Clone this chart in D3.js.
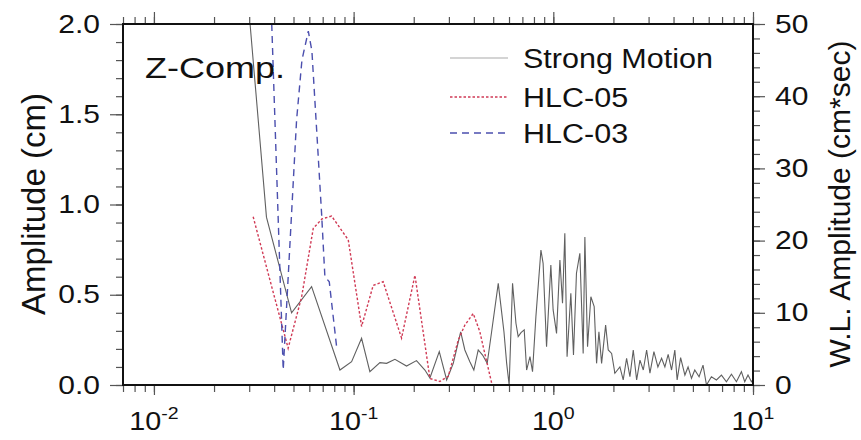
<!DOCTYPE html>
<html>
<head>
<meta charset="utf-8">
<script src="https://cdn.jsdelivr.net/npm/d3@7"></script>
<style>
  body { margin: 0; background: #fff; }
  text { font-family: "Liberation Sans", Arial, sans-serif; fill: #111; }
</style>
</head>
<body>
<script>
// Strong motion spectrum (cm), left axis
var smFreq = [0.0303, 0.0366, 0.0489, 0.0616, 0.0854, 0.0977, 0.1096, 0.1206, 0.1354, 0.1463,
  0.161, 0.1841, 0.2065, 0.2275, 0.241, 0.2685, 0.2924, 0.3155, 0.3436, 0.3606,
  0.382, 0.40, 0.4207, 0.4424, 0.4666, 0.491, 0.53, 0.547, 0.566, 0.584,
  0.601, 0.625, 0.650, 0.667, 0.689, 0.715, 0.735, 0.764, 0.787, 0.818,
  0.867, 0.889, 0.925, 0.972, 0.998, 1.038, 1.079, 1.112, 1.142, 1.172,
  1.224, 1.262, 1.306, 1.358, 1.411, 1.439, 1.484, 1.542, 1.602, 1.647,
  1.692, 1.745, 1.828, 1.884, 1.959, 2.034, 2.155, 2.239, 2.328, 2.419,
  2.514, 2.614, 2.716, 2.822, 2.933, 3.047, 3.19, 3.34, 3.485, 3.62,
  3.76, 3.91, 4.06, 4.17, 4.34, 4.56, 4.73, 4.92, 5.11, 5.37,
  5.62, 5.85, 6.19, 6.56, 6.95, 7.36, 7.80, 8.26, 8.75, 9.09,
  9.44, 9.82, 10]
var smAmp = [2.0, 0.93, 0.40, 0.545, 0.083, 0.129, 0.259, 0.074, 0.124, 0.12,
  0.142, 0.105, 0.135, 0.083, 0.039, 0.185, 0.028, 0.12, 0.295, 0.194,
  0.129, 0.083, 0.194, 0.166, 0.12, 0.295, 0.563, 0.434, 0.295, 0.12,
  0.0, 0.563, 0.342, 0.268, 0.29, 0.305, 0.083, 0.157, 0.074, 0.378,
  0.748, 0.674, 0.212, 0.665, 0.416, 0.286, 0.693, 0.453, 0.84, 0.157,
  0.508, 0.166, 0.619, 0.73, 0.175, 0.82, 0.212, 0.489, 0.434, 0.12,
  0.295, 0.12, 0.332, 0.194, 0.175, 0.065, 0.1, 0.028, 0.148, 0.046,
  0.194, 0.028, 0.138, 0.083, 0.194, 0.066, 0.185, 0.1, 0.148, 0.1,
  0.17, 0.083, 0.194, 0.028, 0.152, 0.055, 0.1, 0.037, 0.083, 0.046,
  0.11, 0.0, 0.046, 0.028, 0.055, 0.018, 0.06, 0.018, 0.074, 0.018,
  0.055, 0.018, 0.03]

// Wavelet amplitudes (cm*sec), right axis
var h05Freq = [0.0314, 0.0389, 0.0470, 0.0549, 0.0628, 0.0694, 0.0776, 0.0837, 0.0940, 0.1096,
  0.1253, 0.1406, 0.1738, 0.2028, 0.241, 0.2704, 0.2979, 0.334, 0.3606, 0.3972,
  0.4285, 0.4457, 0.491]
var h05Amp = [23.3, 13.6, 5.1, 12.2, 21.7, 23.0, 23.4, 22.1, 20.1, 8.1,
  13.8, 14.3, 6.5, 15.2, 0.9, 0.5, 1.2, 6.2, 8.3, 9.9,
  7.4, 5.3, 0.3]

var h03Freq = [0.0389, 0.0444, 0.0518, 0.0551, 0.0593, 0.0618, 0.0653, 0.0691, 0.0718, 0.0755, 0.0822]
var h03Amp = [50, 2.1, 36.7, 45, 49.0, 46.3, 35.3, 23.8, 15.0, 14.3, 5.3]

var xMajorExp = [-2, -1, 0, 1]
var yLeftTicks = [0, 0.5, 1.0, 1.5, 2.0]
var yRightTicks = [0, 10, 20, 30, 40, 50]
var seriesNames = ["Strong Motion", "HLC-05", "HLC-03"]

var W = 861, H = 440
var L = 123, R = 753, T = 24, B = 385
var SX = 1.2   // texts in the picture are a bit wider than Arial

var svg = d3.select("body").append("svg")
  .attr("width", W).attr("height", H)

svg.append("rect").attr("width", W).attr("height", H).attr("fill", "#fff")

var x = d3.scaleLog().domain([0.007, 10]).range([L, R])
var yL = d3.scaleLinear().domain([0, 2]).range([B, T])
var yR = d3.scaleLinear().domain([0, 50]).range([B, T])

var xMajor = xMajorExp.map(e => Math.pow(10, e))
var xMinor = x.ticks()

function styleAxis(g) {
  g.select(".domain").remove()
  g.selectAll("line").attr("stroke", "#555").attr("stroke-width", 1.2)
}

// stretch axis labels sideways around their anchor
function stretchLabels(g) {
  g.selectAll("text").each(function() {
    var t = d3.select(this)
    var tx = +t.attr("x")
    t.attr("x", 0)
      .attr("transform", "translate(" + tx + ",0) scale(" + SX + ",1)")
      .style("font-size", "25px")
      .style("font-family", "Liberation Sans, Arial, sans-serif")
      .attr("fill", "#111")
  })
}

// x ticks, bottom and top
svg.append("g").attr("transform", "translate(0," + B + ")")
  .call(d3.axisBottom(x).tickValues(xMinor).tickSize(7).tickFormat(""))
  .call(styleAxis)
svg.append("g").attr("transform", "translate(0," + B + ")")
  .call(d3.axisBottom(x).tickValues(xMajor).tickSize(10).tickFormat(""))
  .call(styleAxis)
svg.append("g").attr("transform", "translate(0," + T + ")")
  .call(d3.axisTop(x).tickValues(xMinor).tickSize(7).tickFormat(""))
  .call(styleAxis)
svg.append("g").attr("transform", "translate(0," + T + ")")
  .call(d3.axisTop(x).tickValues(xMajor).tickSize(12).tickFormat(""))
  .call(styleAxis)

// x tick labels 10^n
var xl = svg.append("g").selectAll("text")
  .data(xMajorExp).enter().append("text")
  .attr("transform", d => "translate(" + x(Math.pow(10, d)) + ",430) scale(1.15,1)")
  .attr("text-anchor", "middle")
  .style("font-size", "25px")
xl.append("tspan").text("10")
xl.append("tspan").attr("dy", -11).style("font-size", "17px").text(d => d)

// left y axis
svg.append("g").attr("transform", "translate(" + L + ",0)")
  .call(d3.axisLeft(yL).tickValues(d3.range(0, 2.001, 0.1)).tickSize(7).tickFormat(""))
  .call(styleAxis)
svg.append("g").attr("transform", "translate(" + L + ",0)")
  .call(d3.axisLeft(yL).tickValues(yLeftTicks).tickSize(13).tickPadding(10).tickFormat(d3.format(".1f")))
  .call(styleAxis)
  .call(stretchLabels)

// right y axis
svg.append("g").attr("transform", "translate(" + R + ",0)")
  .call(d3.axisRight(yR).tickValues(d3.range(0, 50.1, 2)).tickSize(7).tickFormat(""))
  .call(styleAxis)
svg.append("g").attr("transform", "translate(" + R + ",0)")
  .call(d3.axisRight(yR).tickValues(yRightTicks).tickSize(12).tickPadding(10).tickFormat(d3.format("d")))
  .call(styleAxis)
  .call(stretchLabels)

// axis titles
svg.append("text")
  .attr("transform", "translate(45,204) rotate(-90)")
  .attr("text-anchor", "middle")
  .style("font-size", "33px")
  .text("Amplitude (cm)")
svg.append("text")
  .attr("transform", "translate(850,204) rotate(-90)")
  .attr("text-anchor", "middle")
  .style("font-size", "30px")
  .text("W.L. Amplitude (cm*sec)")

// lines
svg.append("clipPath").attr("id", "clip")
  .append("rect").attr("x", L).attr("y", T).attr("width", R - L).attr("height", B - T)

var plot = svg.append("g").attr("clip-path", "url(#clip)")

var lineL = d3.line().x(d => x(d[0])).y(d => yL(d[1]))
var lineR = d3.line().x(d => x(d[0])).y(d => yR(d[1]))

plot.append("path")
  .datum(d3.zip(smFreq, smAmp))
  .attr("d", lineL)
  .attr("fill", "none").attr("stroke", "#606060").attr("stroke-width", 1.1)

plot.append("path")
  .datum(d3.zip(h05Freq, h05Amp))
  .attr("d", lineR)
  .attr("fill", "none").attr("stroke", "#d03a55").attr("stroke-width", 1.4)
  .attr("stroke-dasharray", "2.5,2")

plot.append("path")
  .datum(d3.zip(h03Freq, h03Amp))
  .attr("d", lineR)
  .attr("fill", "none").attr("stroke", "#4b4fae").attr("stroke-width", 1.4)
  .attr("stroke-dasharray", "7,5")

// frame
svg.append("rect").attr("x", L).attr("y", T).attr("width", R - L).attr("height", B - T)
  .attr("fill", "none").attr("stroke", "#111").attr("stroke-width", 2)

// labels
svg.append("text")
  .attr("transform", "translate(145,78) scale(1.2,1)")
  .style("font-size", "30px")
  .text("Z-Comp.")

var legStyles = [
  { color: "#aaa", dash: null, w: 1.2 },
  { color: "#d03a55", dash: "2.5,2", w: 1.4 },
  { color: "#4b4fae", dash: "7,5", w: 1.4 }
]
var leg = svg.append("g").selectAll("g")
  .data(seriesNames).enter().append("g")
  .attr("transform", (d, i) => "translate(0," + [58, 97, 133][i] + ")")
leg.append("line")
  .attr("x1", 450).attr("x2", 508)
  .attr("stroke", (d, i) => legStyles[i].color)
  .attr("stroke-width", (d, i) => legStyles[i].w)
  .attr("stroke-dasharray", (d, i) => legStyles[i].dash)
leg.append("text")
  .attr("transform", "translate(523,0) scale(1.09,1)")
  .attr("dy", "0.35em")
  .style("font-size", "28px")
  .text(d => d)
</script>
</body>
</html>
